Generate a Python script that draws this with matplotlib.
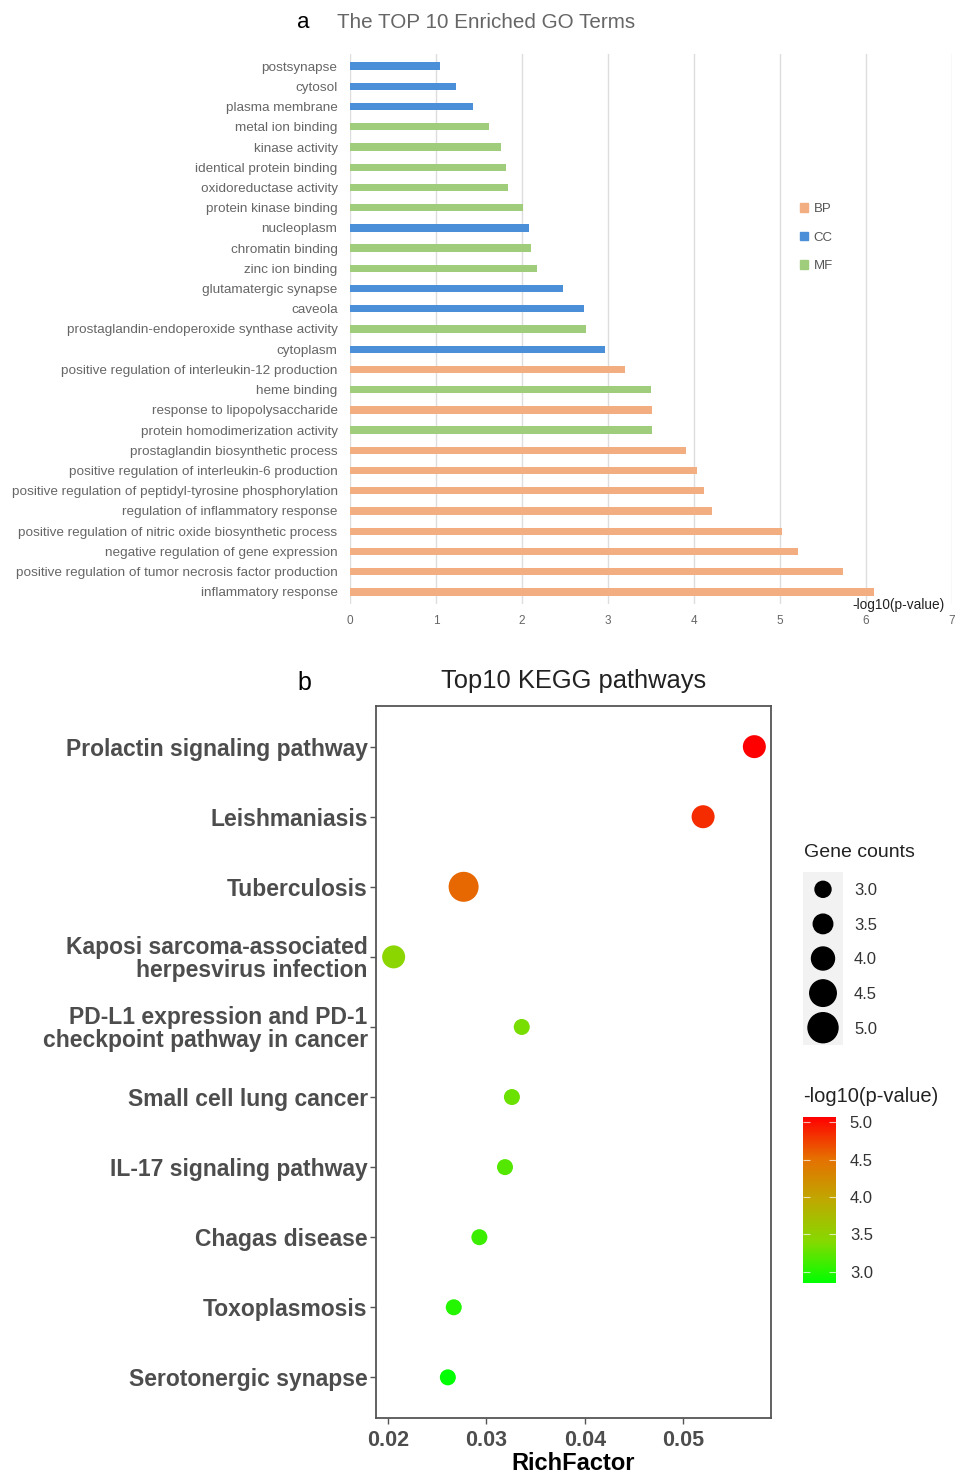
import numpy as np
import matplotlib
matplotlib.use("Agg")
import matplotlib.pyplot as plt
from matplotlib.patches import Patch
from matplotlib.colors import LinearSegmentedColormap, Normalize

plt.rcParams['font.family'] = ['Liberation Sans', 'DejaVu Sans']

# ---- panel a: GO terms ----
go_terms = [
    "postsynapse", "cytosol", "plasma membrane", "metal ion binding",
    "kinase activity", "identical protein binding", "oxidoreductase activity",
    "protein kinase binding", "nucleoplasm", "chromatin binding",
    "zinc ion binding", "glutamatergic synapse", "caveola",
    "prostaglandin-endoperoxide synthase activity", "cytoplasm",
    "positive regulation of interleukin-12 production", "heme binding",
    "response to lipopolysaccharide", "protein homodimerization activity",
    "prostaglandin biosynthetic process",
    "positive regulation of interleukin-6 production",
    "positive regulation of peptidyl-tyrosine phosphorylation",
    "regulation of inflammatory response",
    "positive regulation of nitric oxide biosynthetic process",
    "negative regulation of gene expression",
    "positive regulation of tumor necrosis factor production",
    "inflammatory response",
]
go_category = [
    "CC", "CC", "CC", "MF", "MF", "MF", "MF", "MF", "CC", "MF", "MF", "CC",
    "CC", "MF", "CC", "BP", "MF", "BP", "MF", "BP", "BP", "BP", "BP", "BP",
    "BP", "BP", "BP",
]
go_logp = [
    1.05, 1.23, 1.43, 1.62, 1.76, 1.81, 1.84, 2.01, 2.08, 2.10, 2.17, 2.48,
    2.72, 2.74, 2.97, 3.20, 3.50, 3.51, 3.51, 3.91, 4.03, 4.12, 4.21, 5.02,
    5.21, 5.73, 6.09,
]
cat_colors = {"BP": "#f2ad80", "CC": "#4a8fd7", "MF": "#9fcd7c"}

# ---- panel b: KEGG pathways ----
kegg_terms = [
    "Prolactin signaling pathway", "Leishmaniasis", "Tuberculosis",
    "Kaposi sarcoma-associated\nherpesvirus infection",
    "PD-L1 expression and PD-1\ncheckpoint pathway in cancer",
    "Small cell lung cancer", "IL-17 signaling pathway", "Chagas disease",
    "Toxoplasmosis", "Serotonergic synapse",
]
kegg_rich = [0.0572, 0.0520, 0.0277, 0.0206, 0.0336, 0.0326, 0.0319,
             0.0293, 0.0267, 0.0261]
kegg_counts = [4, 4, 5, 4, 3, 3, 3, 3, 3, 3]
kegg_logp = [5.07, 4.85, 4.55, 3.45, 3.35, 3.30, 3.20, 3.10, 3.00, 2.85]

size_levels = [3.0, 3.5, 4.0, 4.5, 5.0]
color_ticks = [3.0, 3.5, 4.0, 4.5, 5.0]

W, H = 955, 1478
fig = plt.figure(figsize=(W / 100, H / 100), dpi=100)


def box(x0, y0, x1, y1):
    # pixel box -> figure fraction rect
    return [x0 / W, 1 - y1 / H, (x1 - x0) / W, (y1 - y0) / H]


# bar chart
ax1 = fig.add_axes(box(350, 54, 952, 604))
ypos = np.arange(len(go_terms))
ax1.barh(ypos, go_logp, height=0.36,
         color=[cat_colors[c] for c in go_category], zorder=3)
ax1.set_ylim(len(go_terms) - 0.4, -0.6)
ax1.set_xlim(0, 7)
ax1.set_yticks(ypos)
ax1.set_yticklabels(go_terms, fontsize=9.7, color="#555555")
ax1.set_xticks(range(8))
ax1.tick_params(axis="both", length=0, colors="#666666")
ax1.tick_params(axis="x", labelsize=8.5, pad=8)
ax1.tick_params(axis="y", pad=9)
for s in ax1.spines.values():
    s.set_visible(False)
ax1.grid(axis="x", color="#dddddd", linewidth=1.0, zorder=0)
ax1.text(6.92, -0.002, "-log10(p-value)", transform=ax1.get_xaxis_transform(),
         ha="right", va="center", fontsize=9.8, color="#222222")
handles = [Patch(color=cat_colors[k], label=k) for k in ["BP", "CC", "MF"]]
ax1.legend(handles=handles, loc="upper left",
           bbox_to_anchor=(795 / W, 1 - 198 / H),
           bbox_transform=fig.transFigure, frameon=False, fontsize=9.5,
           handlelength=0.6, handleheight=0.6, handletextpad=0.4,
           labelspacing=1.25, labelcolor="#555555", borderaxespad=0)
fig.text(297 / W, 1 - 22 / H, "a", fontsize=16, ha="left", va="center")
fig.text(337 / W, 1 - 22 / H, "The TOP 10 Enriched GO Terms", fontsize=14.9,
         color="#666666", ha="left", va="center")

# bubble chart
cmap = LinearSegmentedColormap.from_list(
    "gr", ["#00ff00", "#86d900", "#bfa800", "#e57000", "#ff0000"])
norm = Normalize(vmin=2.85, vmax=5.07)


def bubble_size(n):
    d_px = 16 + 7 * (np.asarray(n, dtype=float) - 3)
    return (d_px * 0.72) ** 2


ax2 = fig.add_axes(box(376, 706, 771, 1418))
ky = np.arange(len(kegg_terms))
ax2.scatter(kegg_rich, ky, s=bubble_size(kegg_counts),
            c=cmap(norm(kegg_logp)), edgecolors="none", zorder=3)
ax2.set_xlim(0.01881, 0.05889)
ax2.set_ylim(len(kegg_terms) - 0.42, -0.58)
ax2.set_yticks(ky)
ax2.set_yticklabels(kegg_terms, fontsize=16.5, fontweight="bold",
                    color="#4d4d4d", linespacing=1.0)
ax2.set_xticks([0.02, 0.03, 0.04, 0.05])
ax2.set_xticklabels(["0.02", "0.03", "0.04", "0.05"], fontsize=15.5,
                    fontweight="bold", color="#4d4d4d")
ax2.tick_params(axis="both", length=4, width=1, color="#555555", pad=2)
ax2.tick_params(axis="x", pad=5)
for s in ax2.spines.values():
    s.set_color("#555555")
    s.set_linewidth(1.3)
ax2.set_xlabel("RichFactor", fontsize=17, fontweight="bold", labelpad=0)
fig.text(297 / W, 1 - 683 / H, "b", fontsize=18, ha="left", va="center")
fig.text(574 / W, 1 - 681 / H, "Top10 KEGG pathways", fontsize=18.4,
         color="#222222", ha="center", va="center")

# size legend
fig.text(804 / W, 1 - 853 / H, "Gene counts", fontsize=14, color="#222222",
         ha="left", va="center")
axs = fig.add_axes(box(803, 872, 843, 1045))
axs.set_facecolor("#f2f2f2")
ly = np.arange(len(size_levels))
axs.scatter([0] * len(size_levels), ly, s=bubble_size(size_levels), c="black")
axs.set_xlim(-1, 1)
axs.set_ylim(len(size_levels) - 0.5, -0.5)
axs.set_xticks([])
axs.set_yticks(ly)
axs.set_yticklabels([f"{v:.1f}" for v in size_levels], fontsize=12,
                    color="#333333")
axs.yaxis.tick_right()
axs.tick_params(axis="y", length=0, pad=8)
for s in axs.spines.values():
    s.set_visible(False)

# colour bar
fig.text(803 / W, 1 - 1097 / H, "-log10(p-value)", fontsize=14.5,
         color="#222222", ha="left", va="center")
cax = fig.add_axes(box(803, 1117, 836, 1283))
sm = plt.cm.ScalarMappable(norm=norm, cmap=cmap)
cb = fig.colorbar(sm, cax=cax, ticks=color_ticks)
cb.outline.set_visible(False)
cb.ax.set_yticklabels([f"{v:.1f}" for v in color_ticks], fontsize=12,
                      color="#333333")
cax.tick_params(axis="y", which="both", length=0, pad=10)
cax.hlines(color_ticks, 0, 0.2, color="white", linewidth=0.8, alpha=0.7)
cax.hlines(color_ticks, 0.8, 1, color="white", linewidth=0.8, alpha=0.7)

fig.savefig("out.png", dpi=100, facecolor="white")
